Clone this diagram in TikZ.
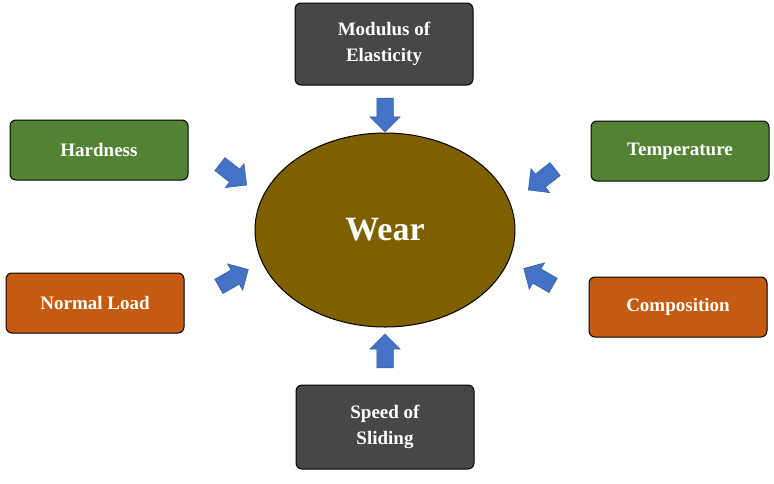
\documentclass[tikz,border=0pt]{standalone}
\usepackage{fontspec}
\setmainfont{Liberation Serif}
\usetikzlibrary{shapes.arrows,shapes.geometric}
\definecolor{gbox}{HTML}{548235}
\definecolor{obox}{HTML}{C55A11}
\definecolor{dbox}{HTML}{474747}
\definecolor{wear}{HTML}{7F6000}
\definecolor{arr}{HTML}{4472C4}
\begin{document}
\begin{tikzpicture}[x=1pt,y=-1pt,
 box/.style={draw=black,line width=1pt,rounded corners=6pt,minimum width=178pt,text=white,font=\bfseries\fontsize{19}{22}\selectfont,align=center},
 barrow/.style={single arrow,fill=arr,draw=arr!80!black,line width=0.5pt,minimum height=34pt,inner sep=0pt,text width=0pt,text height=16pt,text depth=0pt,single arrow head extend=7pt,single arrow head indent=0pt}]
\useasboundingbox (0,0) rectangle (774,483);
\node[box,fill=dbox,minimum height=82pt] (mod) at (384,44) {Modulus of\\[4pt]Elasticity};
\node[box,fill=gbox,minimum height=60pt] (hard) at (99,150) {Hardness};
\node[box,fill=gbox,minimum height=60pt] (temp) at (680,151) {Temperature};
\node[box,fill=obox,minimum height=60pt] (load) at (95,303) {Normal Load};
\node[box,fill=obox,minimum height=60pt] (comp) at (678,307) {Composition};
\node[box,fill=dbox,minimum height=84pt] (speed) at (385,427) {Speed of\\[4pt]Sliding};
\node[ellipse,draw=black,line width=1pt,fill=wear,minimum width=260pt,minimum height=194pt,text=white,font=\bfseries\fontsize{34}{40}\selectfont] (w) at (385,230) {Wear};
\node[barrow,rotate=-90] (a1) at (385,111) {};
\node[barrow,rotate=90] (a2) at (385,355) {};
\node[barrow,rotate=-38] (a3) at (230,172) {};
\node[barrow,rotate=-142] (a4) at (545,177) {};
\node[barrow,rotate=30] (a5) at (230,280) {};
\node[barrow,rotate=150] (a6) at (542,279) {};
\end{tikzpicture}
\end{document}
